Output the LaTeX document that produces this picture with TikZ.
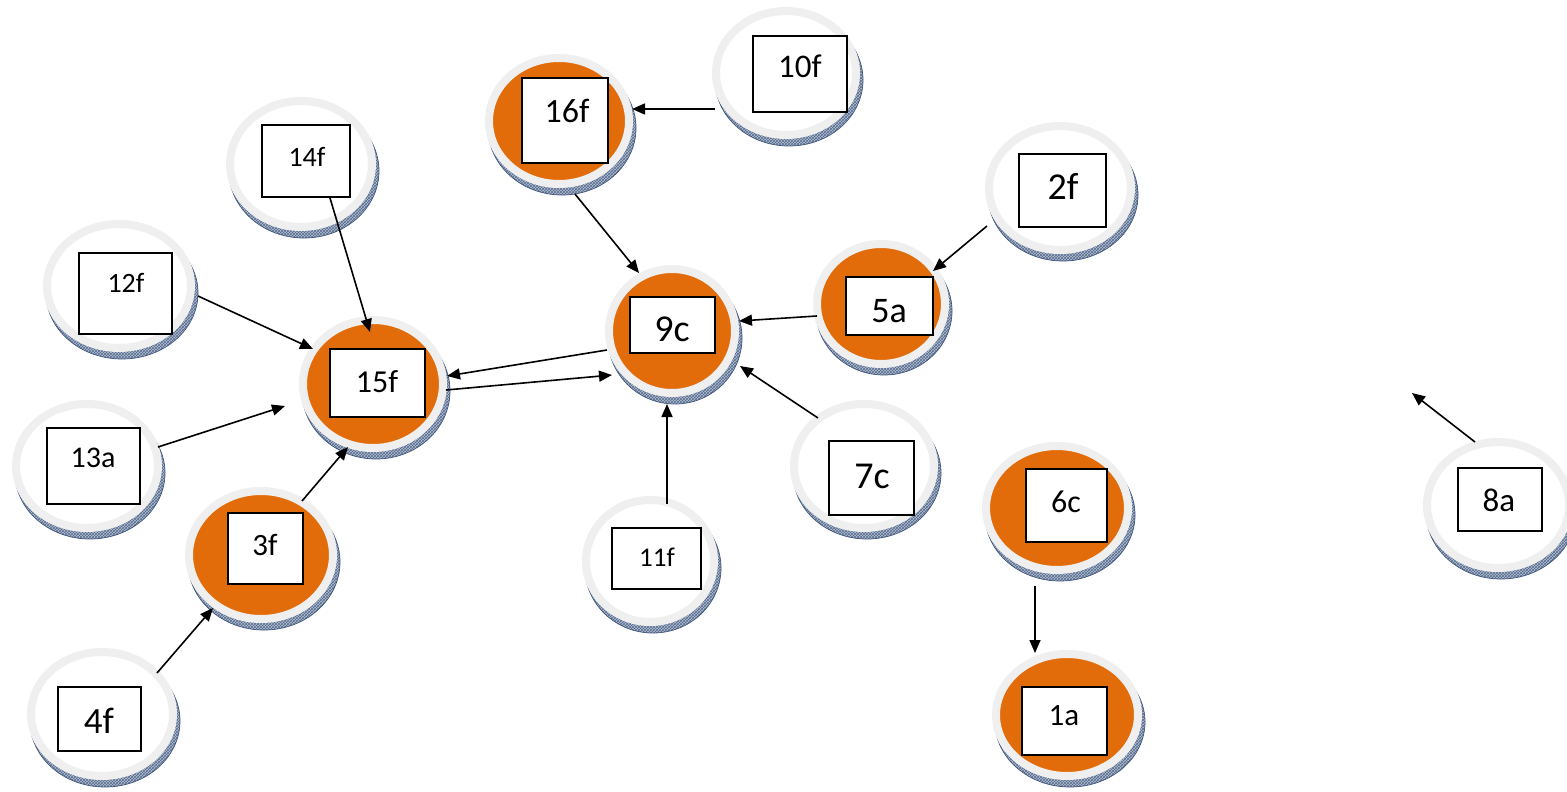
\documentclass[tikz,border=0pt]{standalone}
\usepackage{fontspec}
\setmainfont{Carlito}
\usetikzlibrary{arrows.meta,calc,patterns,shapes.geometric}
\definecolor{nodeorange}{HTML}{E36C0A}
\definecolor{ringgray}{HTML}{EFEFEF}
\definecolor{shadowfill}{HTML}{B4C0D3}
\definecolor{shadowline}{HTML}{1F3A66}
\newcommand\ringnode[6]{%
  \fill[shadowfill] (#2+3,#3+7) ellipse [x radius=#4, y radius=#5];
  \fill[pattern=crosshatch, pattern color=shadowline!75] (#2+3,#3+7) ellipse [x radius=#4, y radius=#5];
  \draw[shadowline!85, line width=0.7pt] (#2+3,#3+7) ellipse [x radius=#4, y radius=#5];
  \node[ringshape, fill=#6, minimum width={2*#4-8}, minimum height={2*#5-8}] (#1) at (#2,#3) {};
}
\newcommand\boxnode[5]{%
  \node[labelbox, minimum width=#4, minimum height=#5] (#1) at (#2,#3) {};
}
\begin{document}
\begin{tikzpicture}[x=1pt,y=-1pt,
  ringshape/.style={ellipse, draw=ringgray, line width=8pt, inner sep=0pt, outer sep=0pt},
  labelbox/.style={rectangle, draw=black, fill=white, line width=1.4pt, inner sep=0pt},
  lbl/.style={inner sep=0pt, font=\fontsize{#1}{#1}\selectfont},
  conn/.style={line width=1.6pt, -{Triangle[length=13pt,width=11pt]}}
]
\useasboundingbox[fill=white] (0,0) rectangle (1567,792);

% circles
\ringnode{n1a}{1067}{715}{75}{65}{nodeorange}
\ringnode{n2f}{1060}{188}{75}{66}{white}
\ringnode{n3f}{261}{555}{76}{68}{nodeorange}
\ringnode{n4f}{102}{714}{75}{66}{white}
\ringnode{n5a}{881}{304}{68}{64}{nodeorange}
\ringnode{n6c}{1057}{508}{75}{66}{nodeorange}
\ringnode{n7c}{864}{466}{74}{66}{white}
\ringnode{n8a}{1498}{505}{75}{67}{white}
\ringnode{n9c}{672}{331}{67}{66}{nodeorange}
\ringnode{n10f}{786}{73}{74}{66}{white}
\ringnode{n11f}{650}{561}{68}{65}{white}
\ringnode{n12f}{119}{286}{76}{66}{white}
\ringnode{n13a}{87}{466}{75}{66}{white}
\ringnode{n14f}{301}{164}{75}{67}{white}
\ringnode{n15f}{373}{384}{74}{68}{nodeorange}
\ringnode{n16f}{559}{121}{74}{67}{nodeorange}

% boxes
\boxnode{b1a}{1064.5}{721}{85}{68}
\boxnode{b2f}{1062.5}{190.5}{87}{73}
\boxnode{b3f}{265.5}{548.5}{75}{71}
\boxnode{b4f}{99.5}{719}{83}{64}
\boxnode{b5a}{889.5}{306}{87}{58}
\boxnode{b6c}{1066.5}{505.5}{81}{73}
\boxnode{b7c}{871.5}{478}{85}{74}
\boxnode{b8a}{1500}{499.5}{84}{63}
\boxnode{b9c}{672.5}{325}{85}{56}
\boxnode{b10f}{800}{74}{94}{76}
\boxnode{b11f}{656.5}{558.5}{89}{61}
\boxnode{b12f}{125.5}{293.5}{93}{81}
\boxnode{b13a}{93.5}{466}{93}{76}
\boxnode{b14f}{306}{161}{88}{72}
\boxnode{b15f}{377.5}{383}{95}{68}
\boxnode{b16f}{565}{120.5}{86}{85}

% labels
\node[lbl=31] (t1a) at (1064,716) {1a};
\node[lbl=38] (t2f) at (1063,186) {2f};
\node[lbl=31] (t3f) at (265,545) {3f};
\node[lbl=37] (t4f) at (99,721) {4f};
\node[lbl=36] (t5a) at (889,311) {5a};
\node[lbl=32] (t6c) at (1066,502) {6c};
\node[lbl=38] (t7c) at (872,476) {7c};
\node[lbl=33] (t8a) at (1499,500) {8a};
\node[lbl=38] (t9c) at (672,329) {9c};
\node[lbl=33] (t10f) at (800,66) {10f};
\node[lbl=27] (t11f) at (657,557) {11f};
\node[lbl=28] (t12f) at (126,283) {12f};
\node[lbl=30] (t13a) at (93,458) {13a};
\node[lbl=28] (t14f) at (307,157) {14f};
\node[lbl=32] (t15f) at (377,382) {15f};
\node[lbl=34] (t16f) at (567,111) {16f};

% connectors
\draw[conn] ($(n10f.center)+(-71,36)$) -- ($(n16f.center)+(73,-12)$);
\draw[conn] ($(n16f.center)+(16,73)$) -- ($(n9c.center)+(-33,-58)$);
\draw[conn] ($(n14f.center)+(29,34)$) -- ($(n15f.center)+(-3,-52)$);
\draw[conn] ($(n12f.center)+(79,10)$) -- ($(n15f.center)+(-60,-35)$);
\draw[conn] ($(n13a.center)+(71,-19)$) -- ($(n15f.center)+(-88,22)$);
\draw[conn] ($(n3f.center)+(41,-54)$) -- ($(n15f.center)+(-25,63)$);
\draw[conn] ($(n4f.center)+(55,-41)$) -- ($(n3f.center)+(-48,53)$);
\draw[conn] ($(n15f.center)+(73,6)$) -- ($(n9c.center)+(-60,44)$);
\draw[conn] ($(n9c.center)+(-65,19)$) -- ($(n15f.center)+(74,-8)$);
\draw[conn] ($(n5a.center)+(-64,12)$) -- ($(n9c.center)+(67,-10)$);
\draw[conn] ($(n2f.center)+(-73,38)$) -- ($(n5a.center)+(52,-33)$);
\draw[conn] ($(n7c.center)+(-46,-48)$) -- ($(n9c.center)+(68,35)$);
\draw[conn] ($(n11f.center)+(17,-57)$) -- ($(n9c.center)+(-5,73)$);
\draw[conn] ($(n6c.center)+(-22,78)$) -- ($(n1a.center)+(-32,-62)$);
\coordinate (p8tip) at ($(n8a.center)+(-86,-112)$);
\draw[conn] ($(n8a.center)+(-23,-63)$) -- (p8tip);
\end{tikzpicture}
\end{document}
